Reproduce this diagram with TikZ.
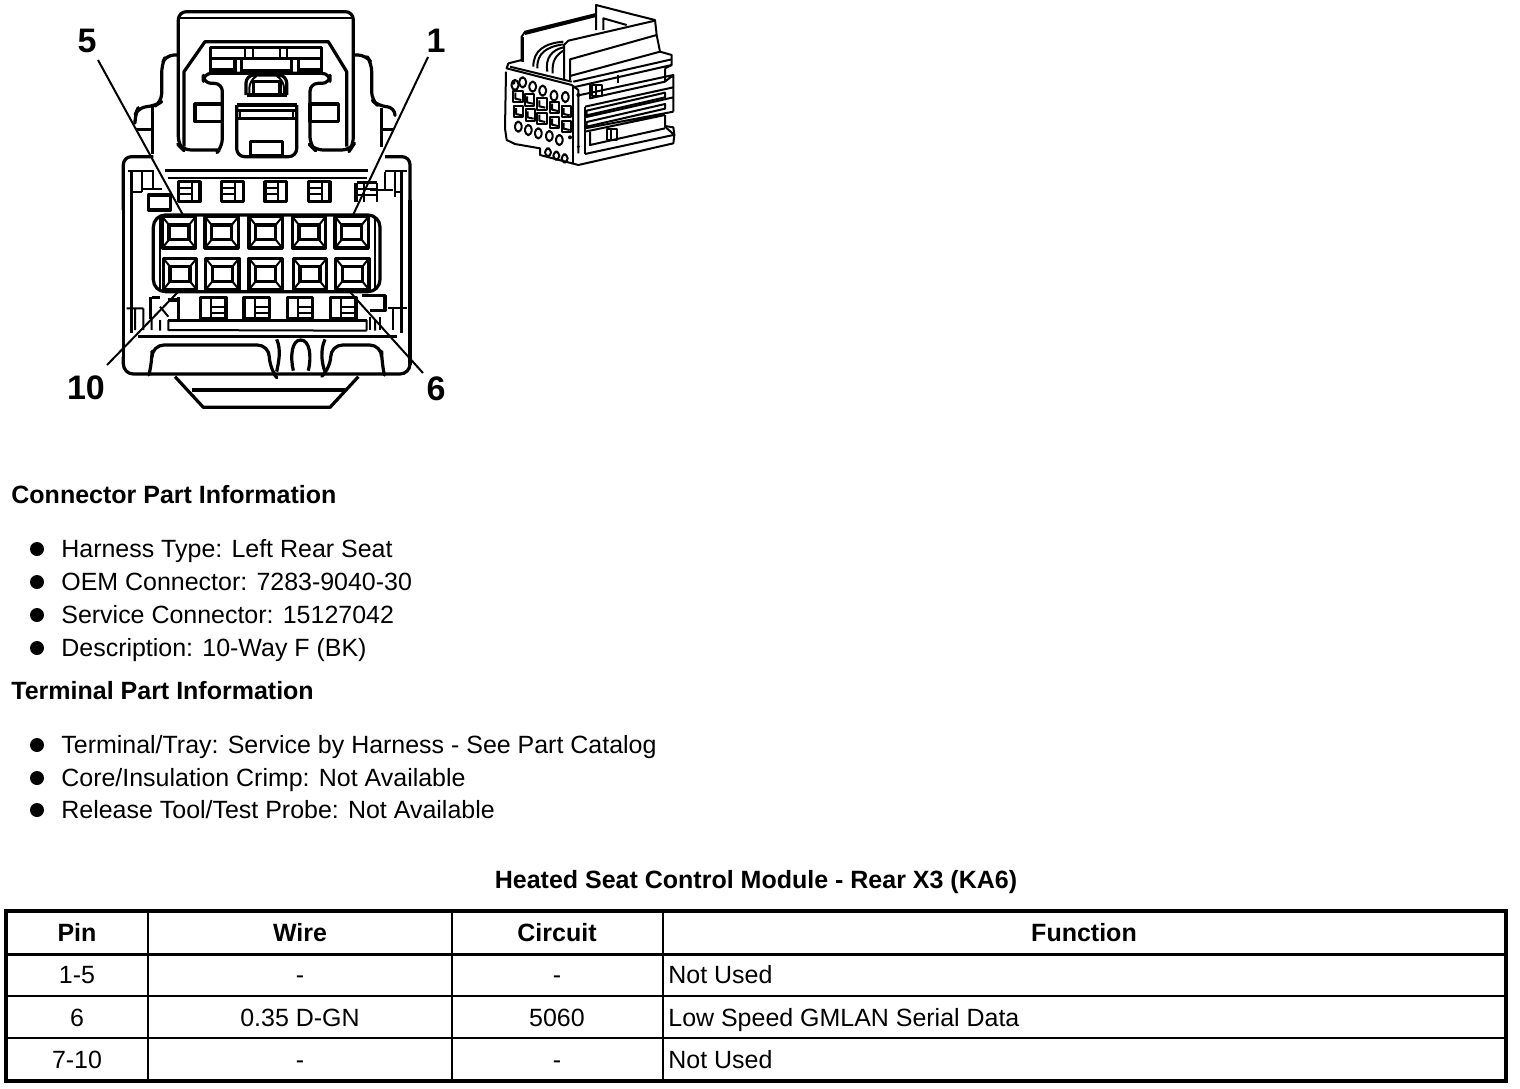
\documentclass[tikz,border=0pt]{standalone}
\usepackage{fontspec}
\setmainfont{Liberation Sans}
\usetikzlibrary{positioning}
\tikzset{
  thick line/.style={line width=1.6pt,line join=round},
  thin line/.style={line width=1pt,line join=round},
  lead/.style={line width=1pt},
  zoomed/.style={x=0.16667pt,y=-0.16667pt},
  callout/.style={font=\fontsize{17}{17}\selectfont\bfseries},
  body text/.style={anchor=base west,inner sep=0pt,font=\fontsize{12.48}{14}\selectfont},
  head text/.style={body text,font=\fontsize{12.5}{14}\selectfont\bfseries},
  cell text/.style={anchor=base,inner sep=0pt,font=\fontsize{12.48}{14}\selectfont},
  cell head/.style={cell text,font=\fontsize{12.5}{14}\selectfont\bfseries},
  rule line/.style={line width=0.8pt},
  head rule/.style={line width=1.5pt},
  frame line/.style={line width=2pt},
  bullet/.style={circle,fill=black,inner sep=0pt,minimum size=7pt}
}
% a terminal cavity of the connector face
\newcommand{\cavity}[2]{%
  \draw[thick line] (#1-50,#2-47) rectangle (#1+50,#2+47);
  \draw[thick line] (#1-30,#2-22) rectangle (#1+30,#2+22);
  \draw[thin line] (#1-50,#2-47)--(#1-30,#2-22) (#1+50,#2-47)--(#1+30,#2-22)
    (#1-50,#2+47)--(#1-30,#2+22) (#1+50,#2+47)--(#1+30,#2+22);}
\begin{document}
\begin{tikzpicture}[x=0.5pt,y=-0.5pt]
\useasboundingbox (0,0) rectangle (1520,1088);
% upper half of the connector
\begin{scope}[shift={(60,0)},zoomed]
\draw[thick line,rounded corners=4pt] (478,450)--(487,440)--(487,250)--(430,250)--(430,220)--(810,220)--(810,250)--(750,250)--(750,435)--(765,450)--(870,450)--(880,435)--(880,35)--(355,35)--(355,435)--(370,450)--(478,450);
\draw[thin line] (358,55)--(878,55);
\draw[thick line] (372,440)--(372,215)--(435,125)--(805,125)--(860,215)--(860,440);
\draw[thick line] (452,215)--(452,143)--(785,143)--(785,215);
\draw[thick line] (452,175)--(785,175) (452,210)--(525,210) (715,210)--(785,210);
\draw[thin line] (555,143)--(555,175) (580,143)--(580,175) (660,143)--(660,175) (680,143)--(680,175);
\draw[thick line] (525,180)--(525,218) (545,180)--(545,218) (695,180)--(695,218) (715,180)--(715,218) (545,212)--(695,212);
\draw[thick line,rounded corners=4pt] (558,285)--(558,225)--(680,225)--(680,285);
\draw[thin line,rounded corners=4pt] (568,285)--(568,240)--(590,228) (650,228)--(672,240)--(672,285);
\draw[thick line] (580,280)--(580,245)--(660,245)--(660,280) (560,285)--(680,285);
\draw[thick line] (530,315)--(710,315) (530,332)--(710,332) (530,355)--(710,355);
\draw[thin line] (540,335)--(540,352) (700,335)--(700,352);
\draw[thick line,rounded corners=4pt] (530,315)--(530,470)--(710,470)--(710,315);
\draw[thick line] (405,312) rectangle (487,365);
\draw[thick line] (750,312) rectangle (835,365);
\draw[thick line] (572,425) rectangle (668,468);
% side ears
\draw[thick line,rounded corners=4pt] (355,165)--(318,165)--(305,195)--(305,305)--(285,318)--(235,322)--(225,345)--(225,360);
\draw[thick line,rounded corners=4pt] (880,165)--(918,165)--(935,190)--(935,300)--(955,318)--(1005,322)--(1005,345);
\draw[thick line] (278,322)--(278,462) (228,388)--(278,388) (965,325)--(965,440) (970,388)--(1000,388);
% housing top corners
\draw[thick line,rounded corners=4pt] (190,630)--(190,470)--(280,470);
\draw[thick line,rounded corners=4pt] (1050,630)--(1050,470)--(975,470);
\draw[thick line] (215,515)--(215,630) (1025,515)--(1025,630);
\draw[thin line] (205,512)--(282,512) (975,512)--(1040,512) (245,515)--(245,575) (280,515)--(280,570) (245,568)--(305,568) (975,515)--(975,570) (1005,515)--(1005,590) (930,570)--(1000,570) (215,575)--(245,575) (1005,575)--(1025,575);
\draw[thick line] (315,512)--(925,512);
\draw[thin line] (325,535)--(920,535);
\draw[thick line] (265,585) rectangle (332,630);
% upper row of small windows
\foreach \xa in {355,485,615,745}{
  \draw[thick line] (\xa,545) rectangle ++(65,60);
  \draw[thin line] (\xa,565)--(\xa+40,565) (\xa,582)--(\xa+40,582) (\xa+40,545)--(\xa+40,605);
}
\draw[thick line] (888,548)--(888,605) (890,548)--(950,548);
\draw[thin line] (890,568)--(950,568) (890,585)--(950,585) (912,548)--(912,605) (950,548)--(950,605);
\end{scope}
% lower half of the connector
\begin{scope}[shift={(60,200)},zoomed]
\draw[thick line] (190,0)--(190,495) (1050,0)--(1050,495) (215,0)--(215,400) (1025,0)--(1025,400);
% terminal block
\draw[thick line,rounded corners=6pt] (280,45) rectangle (960,275);
\draw[thin line,rounded corners=4pt] (300,50)--(300,268) (945,50)--(945,268);
\foreach \xa in {357,485,617,747,875}{\cavity{\xa}{97}}
\foreach \xa in {360,487,617,750,877}{\cavity{\xa}{222}}
% lower row of small windows
\draw[thick line] (272,292)--(272,358) (355,292)--(355,358) (275,292)--(300,292) (325,300)--(355,300);
\draw[thin line] (225,325)--(225,390) (250,325)--(250,390) (275,358)--(275,390) (200,325)--(250,325) (300,320)--(325,350);
\foreach \xa in {422,552,682,812}{
  \draw[thick line] (\xa,292) rectangle ++(76,64);
  \draw[thin line] (\xa+32,292)--(\xa+32,356) (\xa+32,320)--(\xa+76,320) (\xa+32,338)--(\xa+76,338);
}
\draw[thick line] (905,287)--(975,287)--(975,332)--(930,332);
\draw[thin line] (1000,325)--(1000,390) (985,325)--(1040,325) (960,350)--(960,390) (930,350)--(930,390);
% bottom of the housing
\draw[thick line] (325,362)--(920,362);
\draw[thin line] (325,390)--(920,392) (300,360)--(300,392) (325,360)--(325,392) (920,360)--(920,392) (945,360)--(945,392);
\draw[thick line] (235,410)--(1010,410);
\draw[thick line,rounded corners=5pt] (190,470)--(190,522)--(1050,522)--(1050,470);
\draw[thick line,rounded corners=6pt] (268,520)--(276,490)--(276,435)--(628,435)--(628,505)--(640,520);
\draw[thick line,rounded corners=6pt] (972,520)--(965,490)--(965,435)--(812,435)--(812,505)--(795,520);
\draw[thick line] (650,418) .. controls (665,450) and (655,490) .. (650,515);
\draw[thick line] (700,512) .. controls (690,470) and (695,420) .. (722,420) .. controls (750,420) and (755,470) .. (745,512);
\draw[thick line] (795,418) .. controls (780,450) and (785,490) .. (795,515);
\draw[thick line] (345,530)--(430,622)--(810,622)--(895,530);
\draw[thick line] (395,570)--(855,570);
\end{scope}
% leader lines and numbers
\node[callout] (n5) at (87,41) {5};
\node[callout] (n1) at (436,41) {1};
\node[callout] (n10) at (86,388) {10};
\node[callout] (n6) at (436,389) {6};
\coordinate (t5) at (183,215);
\coordinate (t1) at (353,215);
\coordinate (t10) at (178,292);
\coordinate (t6) at (350,292);
\coordinate (s5) at (98,60);
\coordinate (s1) at (428,57);
\coordinate (s10) at (107,365);
\coordinate (s6) at (423,373);
\draw[lead] (s5)--(t5);
\draw[lead] (s1)--(t1);
\draw[lead] (s10)--(t10);
\draw[lead] (s6)--(t6);
% small view of the connector
\begin{scope}[shift={(490,0)},zoomed,thin line]
\draw (318,90)--(318,15)--(435,45) (340,90)--(340,55)--(410,75);
\draw (95,185)--(95,110)--(105,95)--(318,42) (105,102)--(318,48) (435,45)--(495,60)--(500,105)--(510,155)--(545,165)--(545,195)--(525,205);
\draw (100,185)--(100,112);
\draw (222,240)--(222,135)--(235,122)--(495,62) (240,240)--(240,178)--(500,105) (240,228)--(510,155);
\draw (220,125) .. controls (165,130) and (130,150) .. (130,200);
\draw (220,133) .. controls (170,140) and (140,160) .. (142,205);
\draw (220,142) .. controls (185,150) and (165,175) .. (172,215);
\draw (220,152) .. controls (200,165) and (185,180) .. (188,220);
\draw (55,190)--(50,205)--(245,255)--(265,270)--(265,460);
\draw (55,190)--(95,180) (60,200)--(245,245) (250,262)--(545,195) (250,245)--(545,178);
\draw (48,215)--(45,385)--(50,420)--(75,432)--(150,445)--(150,465)--(265,495)--(550,430)--(553,405)--(525,380)--(525,345);
\draw (250,260)--(250,490);
% slots on the side face
\draw (270,285)--(550,225)--(550,335) (550,225)--(525,245)--(525,205);
\draw (300,250)--(300,295)--(525,245);
\draw (285,320)--(550,262) (285,352)--(550,292) (285,385)--(550,335) (285,395)--(525,345);
\draw (290,332)--(525,278)--(525,292)--(290,346)--cycle;
\draw (290,366)--(525,312)--(525,326)--(290,380)--cycle;
\draw (285,320)--(285,462);
\draw (525,378)--(550,382)--(553,405);
\draw (300,395)--(300,435)--(525,385) (285,462)--(550,405);
\draw (385,225)--(385,250);
\foreach \xa/\ya in {305/255,350/388}{
  \draw (\xa,\ya) rectangle ++(30,32);
  \draw (\xa+12,\ya)--(\xa+12,\ya+32);
}
\foreach \xa/\ya in {65/240,88/232,118/245,148/257,182/272,216/276,75/365,105/375,135/385,168/393,198/405}{
  \draw[rounded corners=2pt] (\xa,\ya) rectangle ++(20,30);
}
\foreach \xa/\ya in {70/272,105/283,142/295,180/305,215/318,72/318,107/328,142/338,180/350,215/362}{
  \draw (\xa,\ya) rectangle ++(28,34);
  \draw (\xa+6,\ya+6)--(\xa+6,\ya+24)--(\xa+24,\ya+28);
}
\foreach \xa/\ya in {165/445,190/455,215/463}{
  \draw[rounded corners=2pt] (\xa,\ya) rectangle ++(18,24);
}
\fill (240,412) circle[radius=6];
\fill (70,248) circle[radius=6];
\fill (265,285) circle[radius=6];
\fill (265,440) circle[radius=5];
\end{scope}
% text blocks
\node[head text] (h1) at (11,503) {Connector Part Information};
\foreach \ya/\tx in {557/{Harness Type: Left Rear Seat},590/{OEM Connector: 7283-9040-30},623/{Service Connector: 15127042},656/{Description: 10-Way F (BK)}}{
  \node[bullet] at (37,\ya-8) {};
  \node[body text] at (61,\ya) {\tx};
}
\node[head text] (h2) at (11,699) {Terminal Part Information};
\foreach \ya/\tx in {753/{Terminal/Tray: Service by Harness - See Part Catalog},786/{Core/Insulation Crimp: Not Available},818/{Release Tool/Test Probe: Not Available}}{
  \node[bullet] at (37,\ya-8) {};
  \node[body text] at (61,\ya) {\tx};
}
\node[cell head] (title) at (756,888) {Heated Seat Control Module - Rear X3 (KA6)};
% table
\draw[frame line] (6,911) rectangle (1506,1081);
\draw[head rule] (6,954)--(1506,954);
\draw[rule line] (6,996)--(1506,996) (6,1038)--(1506,1038);
\draw[rule line] (148,911)--(148,1081) (452,911)--(452,1081) (663,911)--(663,1081);
\node[cell head] at (77,941) {Pin};
\node[cell head] at (300,941) {Wire};
\node[cell head] at (557,941) {Circuit};
\node[cell head] at (1084,941) {Function};
\foreach \ya/\pa/\pb/\pc/\pd in {983/1-5/-/-/Not Used,1026/6/0.35 D-GN/5060/Low Speed GMLAN Serial Data,1068/7-10/-/-/Not Used}{
  \node[cell text] at (77,\ya) {\pa};
  \node[cell text] at (300,\ya) {\pb};
  \node[cell text] at (557,\ya) {\pc};
  \node[body text] at (668,\ya) {\pd};
}
\end{tikzpicture}
\end{document}
